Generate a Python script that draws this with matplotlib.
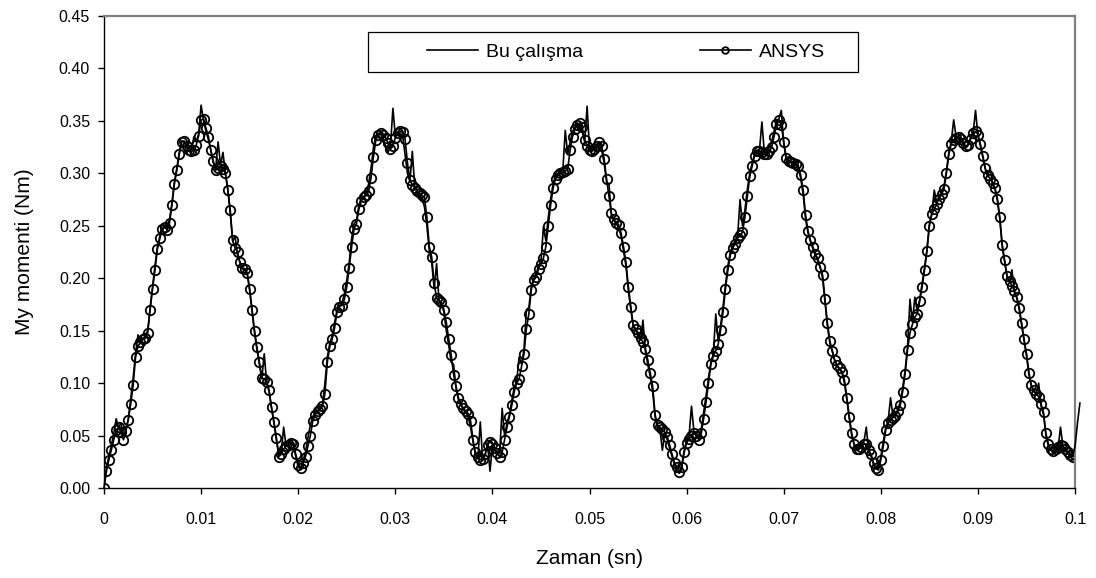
import numpy as np
import matplotlib
matplotlib.use("Agg")
from matplotlib import pyplot as plt
from matplotlib.patches import Rectangle

plt.rcParams['font.family'] = ['Liberation Sans', 'DejaVu Sans']

# time step of both series (s)
dt = 0.00025

# ANSYS result, one value per time step
ansys = [
    0.000, 0.016, 0.027, 0.036, 0.046, 0.055, 0.058, 0.053, 0.046, 0.054,
    0.065, 0.080, 0.098, 0.125, 0.135, 0.139, 0.142, 0.143, 0.148, 0.170,
    0.190, 0.208, 0.228, 0.238, 0.247, 0.249, 0.246, 0.253, 0.270, 0.290,
    0.303, 0.318, 0.330, 0.331, 0.326, 0.322, 0.321, 0.322, 0.327, 0.336,
    0.351,
    0.352, 0.343, 0.335, 0.322, 0.312, 0.303, 0.305, 0.307, 0.304, 0.300,
    0.284, 0.265, 0.236, 0.229, 0.225, 0.215, 0.210, 0.209, 0.205, 0.190,
    0.170, 0.150, 0.134, 0.120, 0.105, 0.104, 0.101, 0.093, 0.077, 0.063,
    0.048, 0.030, 0.032, 0.037, 0.040, 0.041, 0.043, 0.042, 0.032, 0.022,
    0.019, 0.024, 0.030, 0.040, 0.050, 0.064, 0.070, 0.073, 0.075, 0.078,
    0.090, 0.120, 0.135, 0.142, 0.153, 0.168, 0.173, 0.174, 0.180, 0.192,
    0.210, 0.230, 0.247, 0.252, 0.266, 0.274, 0.277, 0.279, 0.283, 0.296,
    0.316, 0.332, 0.337, 0.338, 0.337, 0.334, 0.329, 0.323, 0.326, 0.334,
    0.338, 0.340, 0.339, 0.333, 0.310, 0.294, 0.289, 0.286, 0.283, 0.281,
    0.279, 0.277, 0.258, 0.230, 0.220, 0.195, 0.181, 0.179, 0.177, 0.170,
    0.158, 0.142, 0.127, 0.108, 0.097, 0.086, 0.080, 0.076, 0.073, 0.071,
    0.064, 0.046, 0.034, 0.030, 0.027, 0.028, 0.032, 0.041, 0.044, 0.042,
    0.038, 0.033, 0.030, 0.034, 0.046, 0.058, 0.068, 0.079, 0.092, 0.100,
    0.104, 0.116, 0.128, 0.152, 0.166, 0.189, 0.198, 0.201, 0.209, 0.214,
    0.219, 0.230, 0.250, 0.270, 0.286, 0.295, 0.298, 0.300, 0.301, 0.302,
    0.304, 0.322, 0.335, 0.342, 0.346, 0.348, 0.344, 0.332, 0.326, 0.322,
    0.321, 0.323, 0.326, 0.330, 0.326, 0.314, 0.295, 0.278, 0.262, 0.256,
    0.253, 0.251, 0.243, 0.230, 0.215, 0.192, 0.173, 0.155, 0.152, 0.148,
    0.143, 0.139, 0.133, 0.122, 0.110, 0.097, 0.070, 0.060, 0.058, 0.056,
    0.053, 0.049, 0.041, 0.032, 0.024, 0.020, 0.015, 0.020, 0.034, 0.043,
    0.047, 0.050, 0.052, 0.050, 0.046, 0.052, 0.066, 0.082, 0.100, 0.118,
    0.126, 0.131, 0.137, 0.151, 0.168, 0.190, 0.208, 0.222, 0.229, 0.233,
    0.238, 0.241, 0.244, 0.258, 0.278, 0.297, 0.307, 0.317, 0.321, 0.321,
    0.320, 0.318, 0.318, 0.321, 0.325, 0.335, 0.347, 0.351, 0.346, 0.330,
    0.315, 0.312, 0.311, 0.310, 0.309, 0.307, 0.298, 0.284, 0.260, 0.245,
    0.236, 0.230, 0.223, 0.219, 0.211, 0.203, 0.180, 0.157, 0.140, 0.131,
    0.122, 0.117, 0.114, 0.111, 0.103, 0.086, 0.068, 0.052, 0.042, 0.037,
    0.037, 0.039, 0.042, 0.042, 0.036, 0.032, 0.024, 0.019, 0.017, 0.027,
    0.040, 0.055, 0.062, 0.065, 0.067, 0.069, 0.073, 0.079, 0.092, 0.109,
    0.132, 0.148, 0.156, 0.163, 0.166, 0.178, 0.192, 0.208, 0.226, 0.250,
    0.261, 0.266, 0.271, 0.276, 0.280, 0.285, 0.300, 0.318, 0.328, 0.332,
    0.334, 0.335, 0.333, 0.329, 0.326, 0.327, 0.333, 0.338, 0.340, 0.337,
    0.328, 0.317, 0.305, 0.298, 0.295, 0.291, 0.286, 0.276, 0.258, 0.232,
    0.217, 0.202, 0.197, 0.193, 0.188, 0.182, 0.172, 0.157, 0.142, 0.128,
    0.110, 0.098, 0.093, 0.090, 0.087, 0.080, 0.072, 0.052, 0.042, 0.037,
    0.035, 0.037, 0.039, 0.041, 0.040, 0.037, 0.034, 0.031, 0.030, 0.031,
]

# "Bu calisma" result, same time step (with its spikes)
bu = [
    0.000, 0.020, 0.030, 0.040, 0.052, 0.066, 0.058, 0.062, 0.050, 0.056,
    0.066, 0.085, 0.105, 0.128, 0.146, 0.138, 0.142, 0.145, 0.150, 0.172,
    0.192, 0.212, 0.230, 0.240, 0.252, 0.248, 0.250, 0.256, 0.272, 0.292,
    0.305, 0.320, 0.331, 0.330, 0.325, 0.322, 0.320, 0.335, 0.330, 0.338,
    0.365,
    0.350, 0.340, 0.332, 0.322, 0.310, 0.305, 0.330, 0.308, 0.320, 0.300,
    0.285, 0.262, 0.235, 0.240, 0.222, 0.215, 0.209, 0.208, 0.204, 0.188,
    0.168, 0.148, 0.132, 0.118, 0.104, 0.128, 0.100, 0.092, 0.076, 0.062,
    0.046, 0.032, 0.034, 0.058, 0.040, 0.042, 0.044, 0.040, 0.030, 0.020,
    0.018, 0.026, 0.034, 0.048, 0.060, 0.068, 0.072, 0.074, 0.076, 0.080,
    0.100, 0.125, 0.138, 0.145, 0.158, 0.170, 0.174, 0.176, 0.185, 0.198,
    0.215, 0.238, 0.252, 0.255, 0.270, 0.276, 0.278, 0.281, 0.290, 0.305,
    0.325, 0.336, 0.338, 0.337, 0.333, 0.326, 0.320, 0.326, 0.362, 0.336,
    0.340, 0.338, 0.336, 0.318, 0.300, 0.292, 0.321, 0.287, 0.283, 0.280,
    0.276, 0.268, 0.250, 0.226, 0.215, 0.190, 0.214, 0.178, 0.175, 0.168,
    0.150, 0.136, 0.120, 0.118, 0.095, 0.084, 0.079, 0.075, 0.072, 0.068,
    0.058, 0.044, 0.032, 0.028, 0.063, 0.026, 0.032, 0.042, 0.016, 0.040,
    0.036, 0.032, 0.034, 0.076, 0.050, 0.062, 0.070, 0.084, 0.096, 0.102,
    0.125, 0.118, 0.132, 0.170, 0.172, 0.192, 0.200, 0.204, 0.212, 0.216,
    0.249, 0.236, 0.258, 0.276, 0.290, 0.298, 0.300, 0.302, 0.303, 0.341,
    0.318, 0.330, 0.340, 0.344, 0.348, 0.346, 0.340, 0.330, 0.364, 0.322,
    0.322, 0.325, 0.328, 0.328, 0.322, 0.310, 0.292, 0.290, 0.260, 0.255,
    0.252, 0.248, 0.240, 0.226, 0.212, 0.188, 0.170, 0.154, 0.150, 0.146,
    0.141, 0.160, 0.130, 0.118, 0.106, 0.092, 0.068, 0.058, 0.056, 0.036,
    0.052, 0.046, 0.038, 0.030, 0.022, 0.016, 0.014, 0.022, 0.036, 0.045,
    0.050, 0.078, 0.054, 0.050, 0.048, 0.056, 0.072, 0.088, 0.105, 0.120,
    0.128, 0.166, 0.140, 0.155, 0.173, 0.194, 0.212, 0.225, 0.231, 0.236,
    0.240, 0.275, 0.250, 0.265, 0.285, 0.300, 0.310, 0.318, 0.322, 0.322,
    0.349, 0.320, 0.320, 0.325, 0.330, 0.340, 0.350, 0.352, 0.360, 0.328,
    0.314, 0.311, 0.310, 0.309, 0.308, 0.305, 0.295, 0.280, 0.256, 0.243,
    0.235, 0.228, 0.222, 0.217, 0.210, 0.200, 0.177, 0.154, 0.138, 0.130,
    0.121, 0.116, 0.113, 0.110, 0.100, 0.084, 0.066, 0.050, 0.041, 0.036,
    0.037, 0.040, 0.044, 0.058, 0.034, 0.030, 0.022, 0.018, 0.018, 0.030,
    0.044, 0.058, 0.064, 0.086, 0.068, 0.070, 0.075, 0.082, 0.096, 0.112,
    0.135, 0.180, 0.158, 0.182, 0.168, 0.180, 0.195, 0.210, 0.228, 0.252,
    0.262, 0.284, 0.272, 0.278, 0.282, 0.288, 0.302, 0.320, 0.330, 0.351,
    0.335, 0.334, 0.332, 0.328, 0.325, 0.328, 0.334, 0.338, 0.360, 0.336,
    0.326, 0.315, 0.304, 0.297, 0.305, 0.290, 0.285, 0.274, 0.256, 0.230,
    0.215, 0.201, 0.196, 0.208, 0.187, 0.181, 0.170, 0.155, 0.140, 0.126,
    0.108, 0.097, 0.092, 0.089, 0.100, 0.078, 0.070, 0.050, 0.040, 0.036,
    0.034, 0.036, 0.038, 0.058, 0.040, 0.036, 0.033, 0.030, 0.030, 0.040,
    0.062, 0.081,
]

xticks = [0, 0.01, 0.02, 0.03, 0.04, 0.05, 0.06, 0.07, 0.08, 0.09, 0.1]
xticklabels = ['0', '0.01', '0.02', '0.03', '0.04', '0.05', '0.06', '0.07',
               '0.08', '0.09', '0.1']
yticks = [0, 0.05, 0.10, 0.15, 0.20, 0.25, 0.30, 0.35, 0.40, 0.45]
yticklabels = ['%.2f' % v for v in yticks]

t_ansys = np.arange(len(ansys)) * dt
t_bu = np.arange(len(bu)) * dt

fig = plt.figure(figsize=(10.96, 5.78), dpi=100)
ax = fig.add_axes([0.0949, 0.1557, 0.886, 0.8166])

ax.plot(t_bu, bu, color='black', lw=1.2, label='Bu çalışma', clip_on=False, zorder=3)
ax.plot(t_ansys, ansys, color='black', lw=1.2, marker='o', ms=6.8,
        mfc='none', mec='black', mew=1.3, label='ANSYS', zorder=2)

ax.set_xlim(0, 0.1)
ax.set_ylim(0, 0.45)
ax.set_xticks(xticks)
ax.set_xticklabels(xticklabels)
ax.set_yticks(yticks)
ax.set_yticklabels(yticklabels)
ax.tick_params(direction='out', length=4, width=1, labelsize=11.5)
ax.tick_params(axis='y', pad=6)
ax.tick_params(axis='x', pad=13)

for s in ['left', 'bottom']:
    ax.spines[s].set_color('black')
    ax.spines[s].set_linewidth(1.0)
for s in ['top', 'right']:
    ax.spines[s].set_color('#808080')
    ax.spines[s].set_linewidth(1.6)

ax.set_xlabel('Zaman (sn)', fontsize=15, labelpad=16)
ax.set_ylabel('My momenti (Nm)', fontsize=15, labelpad=18)

# legend box drawn by hand so its padding matches the original
ax.add_patch(Rectangle((0.2719, 0.8814), 0.5046, 0.0847, transform=ax.transAxes,
                       facecolor='white', edgecolor='black', lw=0.9, zorder=4))
leg = ax.legend(loc='center left', bbox_to_anchor=(0.3326, 0.9237), ncol=2,
                frameon=False, borderpad=0, borderaxespad=0, fontsize=14,
                handlelength=2.6, handletextpad=0.45, columnspacing=6.0,
                markerscale=0.7)
leg.set_zorder(5)

fig.savefig('out.png', dpi=100)
